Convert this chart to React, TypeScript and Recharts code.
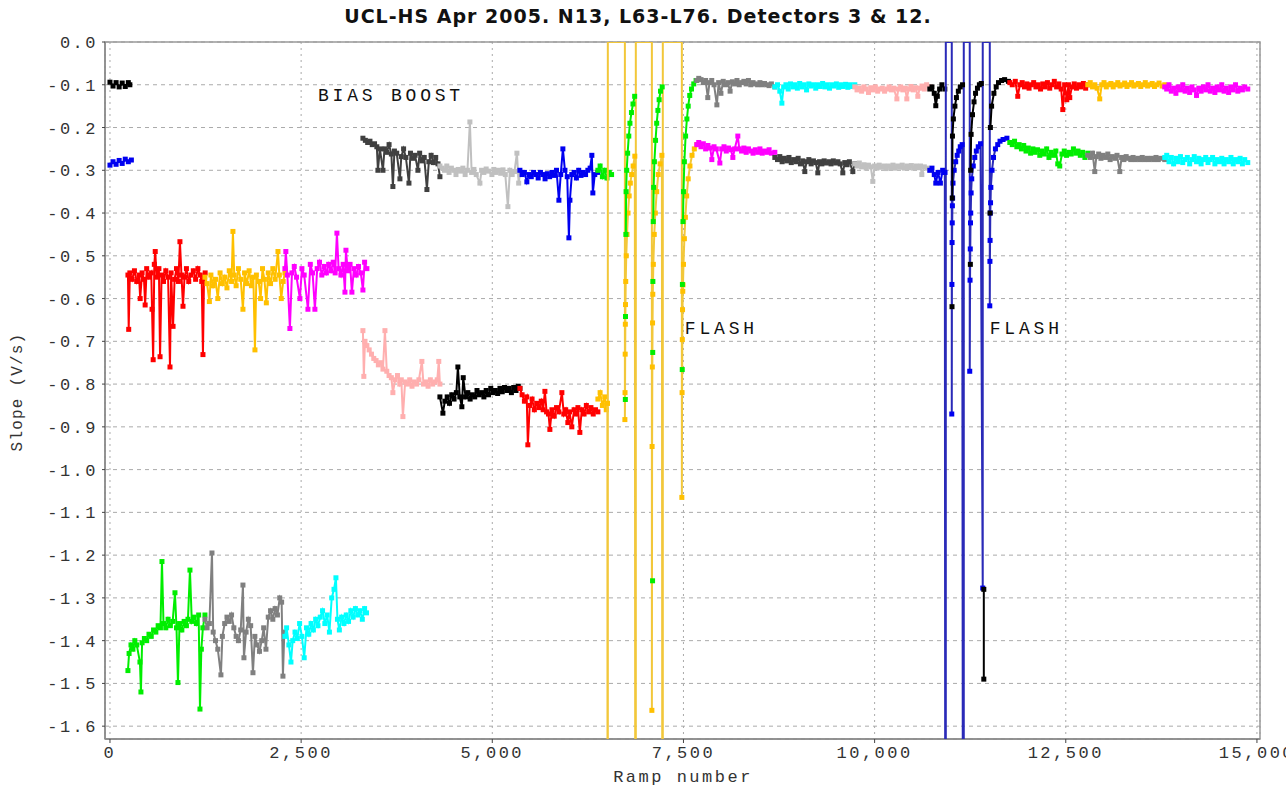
import { ScatterChart, Scatter, XAxis, YAxis, CartesianGrid, ReferenceDot, ReferenceArea } from 'recharts'

type Pt = [number, number]

const xTicks = [0, 2500, 5000, 7500, 10000, 12500, 15000]
const yTicks = [0, -0.1, -0.2, -0.3, -0.4, -0.5, -0.6, -0.7, -0.8, -0.9, -1.0, -1.1, -1.2, -1.3, -1.4, -1.5, -1.6]

// first block, before bias boost
const startHigh: Pt[] = [[0, -0.094], [40, -0.103], [80, -0.095], [120, -0.105], [160, -0.096], [200, -0.104], [240, -0.095], [260, -0.1]]
const startLow: Pt[] = [[0, -0.288], [40, -0.28], [80, -0.286], [120, -0.277], [160, -0.284], [200, -0.274], [240, -0.28], [280, -0.276]]

const midRed: Pt[] = [[235, -0.545], [245, -0.672], [260, -0.54], [290, -0.555], [320, -0.535], [350, -0.56], [380, -0.545], [395, -0.6], [420, -0.54], [445, -0.555], [460, -0.615], [480, -0.53], [510, -0.55], [540, -0.54], [550, -0.625], [565, -0.743], [580, -0.52], [592, -0.49], [610, -0.55], [640, -0.53], [655, -0.736], [675, -0.545], [700, -0.56], [730, -0.535], [760, -0.55], [785, -0.76], [800, -0.54], [825, -0.665], [845, -0.555], [870, -0.53], [895, -0.56], [915, -0.467], [935, -0.545], [955, -0.618], [975, -0.55], [1000, -0.53], [1030, -0.56], [1060, -0.545], [1090, -0.535], [1120, -0.555], [1150, -0.53], [1180, -0.545], [1200, -0.56], [1216, -0.731], [1230, -0.55], [1245, -0.54]]
const midOrange: Pt[] = [[1242, -0.55], [1270, -0.565], [1300, -0.607], [1320, -0.545], [1350, -0.57], [1380, -0.555], [1410, -0.6], [1440, -0.54], [1470, -0.565], [1500, -0.55], [1530, -0.575], [1560, -0.535], [1590, -0.56], [1608, -0.443], [1625, -0.545], [1650, -0.57], [1680, -0.53], [1710, -0.555], [1739, -0.625], [1760, -0.54], [1790, -0.565], [1820, -0.535], [1850, -0.57], [1875, -0.55], [1896, -0.72], [1915, -0.545], [1945, -0.56], [1970, -0.6], [1995, -0.53], [2020, -0.555], [2045, -0.61], [2070, -0.54], [2100, -0.565], [2130, -0.53], [2160, -0.555], [2197, -0.49], [2215, -0.545], [2240, -0.6], [2265, -0.56], [2288, -0.54]]
const midMagenta: Pt[] = [[2288, -0.53], [2300, -0.49], [2320, -0.545], [2353, -0.67], [2380, -0.54], [2410, -0.525], [2440, -0.55], [2484, -0.6], [2510, -0.53], [2540, -0.545], [2589, -0.625], [2620, -0.52], [2650, -0.54], [2680, -0.625], [2710, -0.53], [2740, -0.515], [2770, -0.545], [2800, -0.525], [2830, -0.54], [2860, -0.52], [2890, -0.535], [2920, -0.515], [2945, -0.54], [2968, -0.447], [2990, -0.53], [3020, -0.545], [3050, -0.52], [3073, -0.585], [3086, -0.487], [3110, -0.535], [3140, -0.52], [3164, -0.585], [3190, -0.53], [3220, -0.545], [3250, -0.525], [3280, -0.54], [3308, -0.58], [3330, -0.515], [3360, -0.53]]

const lowGreen: Pt[] = [[235, -1.47], [250, -1.43], [275, -1.41], [300, -1.42], [325, -1.4], [350, -1.41], [392, -1.45], [405, -1.52], [420, -1.405], [450, -1.395], [480, -1.4], [510, -1.385], [540, -1.39], [570, -1.375], [600, -1.38], [630, -1.365], [660, -1.37], [680, -1.215], [700, -1.36], [730, -1.37], [760, -1.35], [790, -1.365], [820, -1.355], [850, -1.288], [870, -1.37], [889, -1.498], [910, -1.36], [940, -1.375], [970, -1.355], [1000, -1.365], [1020, -1.35], [1046, -1.235], [1070, -1.355], [1100, -1.345], [1130, -1.36], [1160, -1.34], [1177, -1.56], [1195, -1.42], [1215, -1.37], [1242, -1.34]]
const lowGray: Pt[] = [[1242, -1.35], [1270, -1.37], [1300, -1.36], [1334, -1.195], [1350, -1.38], [1380, -1.4], [1410, -1.42], [1451, -1.48], [1470, -1.39], [1500, -1.36], [1530, -1.345], [1560, -1.355], [1590, -1.34], [1620, -1.37], [1650, -1.39], [1680, -1.4], [1710, -1.375], [1739, -1.27], [1752, -1.44], [1780, -1.38], [1810, -1.35], [1840, -1.365], [1870, -1.475], [1895, -1.39], [1925, -1.41], [1955, -1.425], [1985, -1.4], [2010, -1.37], [2040, -1.42], [2070, -1.345], [2100, -1.33], [2130, -1.35], [2160, -1.325], [2190, -1.34], [2220, -1.3], [2245, -1.31], [2262, -1.483], [2280, -1.38]]
const lowCyan: Pt[] = [[2288, -1.39], [2310, -1.37], [2340, -1.41], [2367, -1.45], [2390, -1.4], [2420, -1.38], [2450, -1.395], [2480, -1.36], [2510, -1.39], [2540, -1.44], [2570, -1.37], [2600, -1.385], [2630, -1.36], [2660, -1.375], [2690, -1.35], [2720, -1.365], [2750, -1.345], [2780, -1.33], [2810, -1.36], [2840, -1.34], [2870, -1.38], [2900, -1.3], [2930, -1.28], [2955, -1.253], [2975, -1.35], [3000, -1.375], [3030, -1.345], [3060, -1.36], [3090, -1.34], [3120, -1.355], [3150, -1.33], [3180, -1.345], [3210, -1.325], [3240, -1.34], [3270, -1.33], [3300, -1.35], [3330, -1.325], [3355, -1.335]]

// after bias boost
const boostDarkGray: Pt[] = [[3308, -0.225], [3340, -0.23], [3370, -0.235], [3400, -0.232], [3430, -0.24], [3460, -0.238], [3490, -0.245], [3504, -0.3], [3530, -0.25], [3570, -0.3], [3590, -0.25], [3620, -0.258], [3650, -0.24], [3680, -0.262], [3700, -0.338], [3720, -0.255], [3750, -0.26], [3792, -0.32], [3810, -0.268], [3840, -0.25], [3870, -0.27], [3910, -0.33], [3930, -0.26], [3960, -0.272], [3990, -0.265], [4027, -0.3], [4050, -0.26], [4080, -0.278], [4110, -0.27], [4145, -0.345], [4170, -0.28], [4200, -0.265], [4230, -0.282], [4260, -0.27], [4290, -0.285], [4315, -0.315]]
const boostLightGray: Pt[] = [[4315, -0.29], [4345, -0.295], [4375, -0.3], [4405, -0.29], [4435, -0.305], [4465, -0.295], [4495, -0.3], [4525, -0.31], [4555, -0.298], [4585, -0.302], [4615, -0.295], [4645, -0.31], [4675, -0.3], [4707, -0.187], [4730, -0.305], [4760, -0.298], [4790, -0.31], [4838, -0.33], [4860, -0.3], [4890, -0.305], [4920, -0.297], [4950, -0.302], [4995, -0.31], [5020, -0.298], [5050, -0.305], [5080, -0.3], [5110, -0.307], [5140, -0.299], [5170, -0.31], [5204, -0.385], [5230, -0.3], [5260, -0.31], [5290, -0.303], [5322, -0.26], [5345, -0.33], [5361, -0.31]]
const boostBlue: Pt[] = [[5361, -0.3], [5390, -0.31], [5420, -0.305], [5452, -0.327], [5480, -0.31], [5510, -0.315], [5540, -0.305], [5570, -0.31], [5600, -0.318], [5630, -0.305], [5660, -0.31], [5690, -0.32], [5720, -0.308], [5750, -0.315], [5780, -0.305], [5810, -0.312], [5840, -0.3], [5871, -0.37], [5895, -0.31], [5923, -0.25], [5950, -0.3], [5980, -0.315], [6002, -0.458], [6015, -0.37], [6040, -0.31], [6070, -0.305], [6100, -0.318], [6130, -0.3], [6160, -0.312], [6190, -0.305], [6220, -0.31], [6250, -0.3], [6280, -0.295], [6302, -0.265], [6315, -0.353], [6340, -0.31], [6381, -0.305]]
const boostGreen: Pt[] = [[6381, -0.3], [6410, -0.29], [6440, -0.315], [6470, -0.3], [6500, -0.318], [6530, -0.305], [6560, -0.31]]

const boostPink: Pt[] = [[3308, -0.675], [3320, -0.782], [3335, -0.7], [3360, -0.71], [3390, -0.72], [3420, -0.73], [3450, -0.74], [3480, -0.745], [3510, -0.755], [3540, -0.75], [3570, -0.765], [3596, -0.675], [3620, -0.77], [3650, -0.78], [3680, -0.785], [3700, -0.82], [3730, -0.79], [3760, -0.78], [3790, -0.8], [3810, -0.79], [3831, -0.876], [3860, -0.795], [3890, -0.8], [3920, -0.79], [3950, -0.805], [3980, -0.795], [4010, -0.8], [4040, -0.79], [4079, -0.747], [4100, -0.8], [4130, -0.795], [4160, -0.805], [4190, -0.79], [4220, -0.8], [4250, -0.795], [4280, -0.79], [4300, -0.747], [4315, -0.8]]
const boostBlack: Pt[] = [[4315, -0.83], [4354, -0.868], [4380, -0.84], [4410, -0.83], [4440, -0.845], [4470, -0.825], [4500, -0.835], [4530, -0.82], [4550, -0.76], [4575, -0.83], [4602, -0.853], [4620, -0.785], [4650, -0.83], [4680, -0.82], [4710, -0.835], [4740, -0.825], [4770, -0.83], [4800, -0.815], [4830, -0.825], [4860, -0.82], [4890, -0.83], [4920, -0.815], [4950, -0.825], [4980, -0.81], [5010, -0.82], [5040, -0.815], [5070, -0.822], [5100, -0.81], [5130, -0.818], [5160, -0.808], [5190, -0.815], [5220, -0.81], [5250, -0.82], [5280, -0.808], [5310, -0.815], [5340, -0.805], [5361, -0.81]]
const boostRed: Pt[] = [[5361, -0.81], [5390, -0.825], [5420, -0.84], [5450, -0.83], [5465, -0.942], [5490, -0.85], [5520, -0.835], [5550, -0.86], [5580, -0.845], [5610, -0.855], [5640, -0.84], [5665, -0.86], [5688, -0.817], [5710, -0.865], [5735, -0.87], [5753, -0.906], [5780, -0.86], [5810, -0.875], [5840, -0.855], [5870, -0.865], [5910, -0.82], [5935, -0.87], [5960, -0.86], [5988, -0.89], [6010, -0.865], [6040, -0.9], [6070, -0.86], [6100, -0.87], [6120, -0.855], [6145, -0.913], [6170, -0.86], [6200, -0.87], [6230, -0.85], [6260, -0.865], [6290, -0.855], [6320, -0.87], [6350, -0.86], [6381, -0.865]]
const boostOrange: Pt[] = [[6381, -0.835], [6410, -0.82], [6440, -0.85], [6470, -0.83], [6490, -0.86], [6505, -0.845]]

// flash 1: values off scale, then recovery
const flash1Gold: Pt[] = [[6505, -0.845], [6511, -4], [6511, 0], [6734, 0], [6734, -0.883], [6736, -0.82], [6738, -0.73], [6740, -0.66], [6742, -0.614], [6745, -0.56], [6752, -0.5], [6762, -0.45], [6775, -0.4], [6790, -0.36], [6805, -0.33], [6822, -0.31], [6842, -0.29], [6864, -0.267], [6877, -4], [6877, 0], [7087, 0], [7087, -1.563], [7090, -0.946], [7093, -0.76], [7096, -0.657], [7099, -0.59], [7106, -0.52], [7118, -0.45], [7132, -0.4], [7150, -0.35], [7170, -0.31], [7195, -0.285], [7218, -0.265], [7230, -4], [7230, 0], [7479, 0], [7479, -1.065], [7482, -0.82], [7485, -0.696], [7488, -0.626], [7491, -0.583], [7494, -0.568], [7500, -0.52], [7512, -0.46], [7525, -0.41], [7542, -0.36], [7562, -0.32], [7585, -0.29], [7612, -0.265], [7642, -0.25], [7675, -0.24]]
const flash1GreenDots: Pt[] = [[6740, -0.836], [6742, -0.642], [7096, -1.26], [7098, -0.726], [7100, -0.56], [7484, -0.766], [7486, -0.567]]
const flash1Green1: Pt[] = [[6747, -0.45], [6750, -0.35], [6758, -0.3], [6770, -0.26], [6785, -0.22], [6800, -0.19], [6820, -0.165], [6840, -0.145], [6862, -0.127]]
const flash1Green2: Pt[] = [[7105, -0.42], [7110, -0.34], [7120, -0.28], [7135, -0.23], [7150, -0.19], [7166, -0.16], [7182, -0.135], [7200, -0.115], [7222, -0.105]]
const flash1Green3: Pt[] = [[7494, -0.42], [7500, -0.35], [7512, -0.28], [7528, -0.22], [7545, -0.18], [7562, -0.15], [7582, -0.125], [7605, -0.11], [7635, -0.098], [7665, -0.09]]

const postGray: Pt[] = [[7675, -0.09], [7700, -0.085], [7730, -0.088], [7760, -0.095], [7790, -0.09], [7818, -0.13], [7840, -0.095], [7870, -0.09], [7900, -0.1], [7937, -0.147], [7960, -0.095], [7990, -0.12], [8020, -0.092], [8050, -0.1], [8080, -0.095], [8110, -0.115], [8140, -0.093], [8170, -0.098], [8200, -0.09], [8230, -0.1], [8260, -0.095], [8290, -0.092], [8320, -0.098], [8350, -0.09], [8380, -0.1], [8410, -0.095], [8440, -0.098], [8470, -0.1], [8500, -0.095], [8530, -0.1], [8560, -0.097], [8590, -0.1], [8620, -0.102], [8650, -0.098], [8695, -0.105]]
const postCyan: Pt[] = [[8695, -0.105], [8730, -0.1], [8760, -0.115], [8787, -0.143], [8810, -0.105], [8840, -0.1], [8870, -0.11], [8900, -0.098], [8930, -0.105], [8960, -0.1], [8990, -0.108], [9020, -0.097], [9050, -0.105], [9080, -0.1], [9110, -0.112], [9140, -0.098], [9170, -0.103], [9200, -0.1], [9230, -0.108], [9260, -0.1], [9290, -0.104], [9320, -0.097], [9350, -0.105], [9380, -0.1], [9410, -0.108], [9440, -0.1], [9470, -0.103], [9500, -0.098], [9530, -0.106], [9560, -0.1], [9590, -0.104], [9620, -0.099], [9650, -0.106], [9680, -0.1], [9710, -0.104], [9741, -0.1]]
const postPink: Pt[] = [[9741, -0.105], [9770, -0.112], [9800, -0.108], [9830, -0.115], [9860, -0.105], [9890, -0.11], [9920, -0.118], [9950, -0.107], [9980, -0.112], [10010, -0.105], [10040, -0.115], [10070, -0.11], [10100, -0.108], [10130, -0.115], [10160, -0.11], [10190, -0.105], [10220, -0.112], [10250, -0.108], [10291, -0.133], [10310, -0.11], [10340, -0.105], [10370, -0.112], [10400, -0.108], [10421, -0.133], [10445, -0.11], [10475, -0.104], [10505, -0.112], [10535, -0.107], [10565, -0.127], [10590, -0.108], [10620, -0.103], [10650, -0.11], [10680, -0.1], [10722, -0.105]]
const postBlack: Pt[] = [[10722, -0.11], [10750, -0.105], [10780, -0.12], [10800, -0.149], [10820, -0.127], [10850, -0.11], [10880, -0.1], [10918, -0.11]]

const postMagenta: Pt[] = [[7675, -0.24], [7700, -0.235], [7730, -0.245], [7760, -0.238], [7790, -0.25], [7820, -0.242], [7850, -0.248], [7871, -0.275], [7900, -0.245], [7930, -0.25], [7976, -0.283], [8000, -0.25], [8030, -0.245], [8060, -0.255], [8090, -0.248], [8120, -0.252], [8146, -0.27], [8170, -0.25], [8211, -0.22], [8230, -0.25], [8260, -0.255], [8290, -0.248], [8320, -0.258], [8350, -0.25], [8380, -0.255], [8410, -0.26], [8440, -0.252], [8470, -0.258], [8500, -0.25], [8530, -0.26], [8560, -0.255], [8590, -0.258], [8620, -0.252], [8650, -0.26], [8695, -0.258]]
const postDarkGray: Pt[] = [[8695, -0.27], [8730, -0.275], [8760, -0.268], [8790, -0.28], [8820, -0.272], [8850, -0.278], [8880, -0.27], [8910, -0.282], [8940, -0.275], [8970, -0.28], [9000, -0.272], [9030, -0.285], [9060, -0.278], [9087, -0.303], [9110, -0.28], [9140, -0.275], [9170, -0.285], [9200, -0.278], [9230, -0.282], [9257, -0.306], [9280, -0.28], [9310, -0.285], [9340, -0.278], [9370, -0.283], [9400, -0.28], [9430, -0.285], [9460, -0.278], [9490, -0.283], [9520, -0.28], [9550, -0.285], [9584, -0.306], [9610, -0.282], [9640, -0.287], [9670, -0.28], [9715, -0.303], [9741, -0.285]]
const postLightGray: Pt[] = [[9741, -0.285], [9770, -0.29], [9800, -0.283], [9830, -0.292], [9860, -0.287], [9890, -0.295], [9920, -0.288], [9950, -0.292], [9976, -0.326], [10000, -0.29], [10030, -0.295], [10060, -0.288], [10090, -0.293], [10120, -0.29], [10150, -0.296], [10180, -0.29], [10210, -0.294], [10240, -0.288], [10270, -0.295], [10300, -0.29], [10330, -0.293], [10360, -0.288], [10390, -0.295], [10420, -0.29], [10450, -0.294], [10480, -0.289], [10510, -0.295], [10540, -0.29], [10570, -0.294], [10600, -0.29], [10617, -0.31], [10650, -0.292], [10690, -0.295], [10722, -0.3]]
const postBlue: Pt[] = [[10722, -0.3], [10750, -0.295], [10780, -0.31], [10800, -0.33], [10830, -0.305], [10860, -0.33], [10890, -0.3], [10918, -0.305]]

// flash 2
const flash2Blue: Pt[] = [[10918, -0.305], [10931, -4], [10931, 0], [11009, 0], [11009, -0.87], [11011, -0.567], [11013, -0.469], [11015, -0.423], [11017, -0.383], [11020, -0.365], [11025, -0.33], [11040, -0.3], [11060, -0.28], [11080, -0.265], [11100, -0.255], [11120, -0.245], [11145, -0.24], [11166, -4], [11166, 0], [11244, 0], [11244, -0.77], [11248, -0.557], [11251, -0.484], [11254, -0.423], [11257, -0.4], [11262, -0.353], [11270, -0.32], [11290, -0.29], [11310, -0.27], [11330, -0.255], [11355, -0.245], [11385, -0.238], [11414, -1.277], [11414, 0], [11506, 0], [11506, -0.617], [11508, -0.513], [11510, -0.464], [11513, -0.4], [11516, -0.376], [11520, -0.34], [11535, -0.3], [11555, -0.27], [11580, -0.25], [11610, -0.24], [11640, -0.232], [11680, -0.228], [11730, -0.225]]
const flash2BlackDots: Pt[] = [[11012, -0.619], [11252, -0.52], [11510, -0.4]]
const flash2Black1: Pt[] = [[11015, -0.365], [11018, -0.22], [11030, -0.18], [11050, -0.15], [11070, -0.13], [11095, -0.115], [11120, -0.105], [11150, -0.1]]
const flash2Black2: Pt[] = [[11256, -0.3], [11262, -0.216], [11280, -0.17], [11300, -0.14], [11320, -0.12], [11345, -0.108], [11370, -0.1], [11395, -0.097]]
const flash2BlackTail: Pt[] = [[11428, -1.49], [11428, -1.28]]
const flash2Black3: Pt[] = [[11514, -0.2], [11530, -0.15], [11560, -0.12], [11590, -0.105], [11620, -0.095], [11660, -0.09], [11700, -0.088], [11750, -0.092]]

const endRed: Pt[] = [[11768, -0.095], [11800, -0.1], [11840, -0.092], [11872, -0.127], [11900, -0.1], [11930, -0.095], [11960, -0.105], [11990, -0.098], [12020, -0.108], [12050, -0.1], [12080, -0.095], [12110, -0.105], [12140, -0.1], [12170, -0.11], [12200, -0.098], [12230, -0.105], [12260, -0.095], [12290, -0.108], [12320, -0.1], [12350, -0.092], [12380, -0.105], [12410, -0.098], [12440, -0.11], [12461, -0.158], [12485, -0.1], [12513, -0.135], [12535, -0.1], [12552, -0.13], [12580, -0.105], [12610, -0.098], [12640, -0.108], [12670, -0.1], [12700, -0.105], [12730, -0.097], [12760, -0.108], [12788, -0.1]]
const endOrange: Pt[] = [[12788, -0.1], [12820, -0.095], [12850, -0.105], [12880, -0.1], [12910, -0.108], [12944, -0.133], [12970, -0.1], [13000, -0.095], [13030, -0.105], [13060, -0.1], [13090, -0.097], [13120, -0.105], [13150, -0.1], [13180, -0.095], [13210, -0.103], [13240, -0.1], [13270, -0.096], [13300, -0.104], [13330, -0.1], [13360, -0.095], [13390, -0.103], [13420, -0.1], [13450, -0.097], [13480, -0.104], [13510, -0.1], [13540, -0.095], [13570, -0.103], [13600, -0.1], [13630, -0.097], [13660, -0.104], [13690, -0.1], [13720, -0.096], [13760, -0.103], [13794, -0.1]]
const endMagenta: Pt[] = [[13794, -0.105], [13820, -0.11], [13850, -0.1], [13880, -0.115], [13910, -0.108], [13940, -0.12], [13970, -0.105], [14000, -0.112], [14030, -0.1], [14060, -0.115], [14090, -0.108], [14120, -0.118], [14150, -0.105], [14180, -0.112], [14210, -0.125], [14240, -0.108], [14270, -0.115], [14300, -0.105], [14330, -0.112], [14360, -0.1], [14390, -0.115], [14420, -0.108], [14450, -0.118], [14480, -0.105], [14510, -0.112], [14540, -0.1], [14570, -0.115], [14600, -0.108], [14630, -0.118], [14660, -0.105], [14690, -0.112], [14720, -0.1], [14750, -0.115], [14780, -0.108], [14810, -0.112], [14840, -0.105], [14880, -0.11]]

const endGreen: Pt[] = [[11768, -0.235], [11800, -0.24], [11830, -0.232], [11860, -0.245], [11890, -0.24], [11920, -0.25], [11950, -0.242], [11980, -0.255], [12010, -0.248], [12040, -0.26], [12070, -0.25], [12100, -0.258], [12130, -0.252], [12160, -0.265], [12190, -0.255], [12220, -0.262], [12250, -0.25], [12280, -0.27], [12310, -0.258], [12340, -0.265], [12370, -0.255], [12395, -0.285], [12421, -0.29], [12450, -0.262], [12480, -0.255], [12510, -0.265], [12540, -0.258], [12570, -0.262], [12600, -0.25], [12630, -0.26], [12660, -0.255], [12690, -0.265], [12720, -0.258], [12750, -0.27], [12788, -0.26]]
const endGray: Pt[] = [[12788, -0.265], [12820, -0.27], [12850, -0.26], [12879, -0.303], [12900, -0.268], [12930, -0.262], [12960, -0.272], [12990, -0.265], [13020, -0.27], [13050, -0.262], [13080, -0.275], [13110, -0.268], [13140, -0.272], [13170, -0.265], [13206, -0.303], [13230, -0.27], [13260, -0.275], [13290, -0.268], [13320, -0.272], [13350, -0.275], [13380, -0.27], [13410, -0.275], [13440, -0.272], [13470, -0.275], [13500, -0.27], [13530, -0.275], [13560, -0.272], [13590, -0.275], [13620, -0.272], [13650, -0.275], [13680, -0.27], [13710, -0.275], [13740, -0.272], [13794, -0.275]]
const endCyan: Pt[] = [[13794, -0.27], [13820, -0.265], [13850, -0.28], [13880, -0.27], [13910, -0.285], [13940, -0.272], [13970, -0.28], [14000, -0.268], [14030, -0.282], [14060, -0.275], [14090, -0.27], [14120, -0.285], [14150, -0.275], [14180, -0.268], [14210, -0.28], [14240, -0.272], [14270, -0.285], [14300, -0.275], [14330, -0.27], [14360, -0.282], [14390, -0.275], [14420, -0.27], [14450, -0.285], [14480, -0.275], [14510, -0.28], [14540, -0.272], [14570, -0.285], [14600, -0.275], [14630, -0.28], [14660, -0.27], [14690, -0.285], [14720, -0.275], [14750, -0.28], [14780, -0.272], [14810, -0.285], [14840, -0.275], [14880, -0.282]]

const RED = '#ff0000'
const GOLD = '#ffc000'
const MAGENTA = '#ff00ff'
const GREEN = '#00ee00'
const GRAY = '#808080'
const CYAN = '#00ffff'
const DARK = '#404040'
const LIGHT = '#c0c0c0'
const BLUE = '#0000f0'
const PINK = '#ffafaf'
const BLACK = '#000000'

const series: { data: Pt[]; color: string; lineColor?: string; width?: number; noLine?: boolean }[] = [
  { data: startHigh, color: BLACK },
  { data: startLow, color: BLUE },
  { data: midRed, color: RED },
  { data: midOrange, color: GOLD },
  { data: midMagenta, color: MAGENTA },
  { data: lowGreen, color: GREEN },
  { data: lowGray, color: GRAY },
  { data: lowCyan, color: CYAN },
  { data: boostDarkGray, color: DARK },
  { data: boostLightGray, color: LIGHT },
  { data: boostBlue, color: BLUE },
  { data: boostGreen, color: GREEN },
  { data: boostPink, color: PINK },
  { data: boostBlack, color: BLACK },
  { data: boostRed, color: RED },
  { data: boostOrange, color: GOLD },
  { data: flash1Gold, color: GOLD, lineColor: '#f2c73a', width: 2 },
  { data: flash1GreenDots, color: GREEN, noLine: true },
  { data: flash1Green1, color: GREEN },
  { data: flash1Green2, color: GREEN },
  { data: flash1Green3, color: GREEN },
  { data: postGray, color: GRAY },
  { data: postCyan, color: CYAN },
  { data: postPink, color: PINK },
  { data: postBlack, color: BLACK },
  { data: postMagenta, color: MAGENTA },
  { data: postDarkGray, color: DARK },
  { data: postLightGray, color: LIGHT },
  { data: postBlue, color: BLUE },
  { data: flash2Blue, color: BLUE, lineColor: '#2a2ab8', width: 2 },
  { data: flash2BlackDots, color: BLACK, noLine: true },
  { data: flash2Black1, color: BLACK },
  { data: flash2Black2, color: BLACK },
  { data: flash2BlackTail, color: BLACK },
  { data: flash2Black3, color: BLACK },
  { data: endRed, color: RED },
  { data: endOrange, color: GOLD },
  { data: endMagenta, color: MAGENTA },
  { data: endGreen, color: GREEN },
  { data: endGray, color: GRAY },
  { data: endCyan, color: CYAN },
]

const Y_MIN = -1.63
const Y_MAX = 0

const toRows = (pts: Pt[]) => pts.map(([x, y]) => ({ x, y }))

function Square(props: any) {
  const { cx, cy, fill, payload } = props
  const v = payload ? payload.y : -0.5
  if (v >= Y_MAX || v < Y_MIN || cx == null || cy == null) return <g />
  return <rect x={cx - 2.5} y={cy - 2.5} width={5} height={5} fill={fill} />
}

const monoTick = { fill: '#333', fontSize: 17, fontFamily: 'Liberation Mono', letterSpacing: 2.5 }
const noteStyle = { fill: '#111', fontSize: 18, fontFamily: 'Liberation Mono', letterSpacing: 3.8 }

export default function App() {
  return (
    <div style={{ position: 'absolute', left: 0, top: 0, width: 1286, height: 788, background: '#fff' }}>
      <div
        style={{
          position: 'absolute', left: 0, width: 1276, top: 5, textAlign: 'center',
          fontFamily: 'DejaVu Sans', fontWeight: 'bold', fontSize: 19, letterSpacing: 1, color: '#111',
        }}
      >
        UCL-HS Apr 2005. N13, L63-L76. Detectors 3 &amp; 12.
      </div>
      <ScatterChart width={1286} height={788} margin={{ top: 42, right: 26, bottom: 19, left: 45 }}>
        <CartesianGrid vertical={false} stroke="#aaa" strokeDasharray="4 4" />
        <CartesianGrid horizontal={false} stroke="#aaa" strokeDasharray="2 4" />
        <ReferenceArea x1={-65} x2={15040} y1={Y_MIN} y2={Y_MAX} fill="none" stroke="#999" strokeWidth={1.5} />
        <XAxis
          type="number"
          dataKey="x"
          domain={[-65, 15040]}
          ticks={xTicks}
          interval={0}
          allowDataOverflow
          height={30}
          tickSize={4}
          tickMargin={3}
          tick={monoTick}
          tickFormatter={(v: number) => v.toLocaleString('en-US')}
          axisLine={{ stroke: '#888', strokeWidth: 1.5 }}
          tickLine={{ stroke: '#444' }}
        />
        <YAxis
          type="number"
          dataKey="y"
          domain={[Y_MIN, Y_MAX]}
          ticks={yTicks}
          interval={0}
          allowDataOverflow
          width={60}
          tickSize={3}
          tickMargin={4}
          tick={monoTick}
          tickFormatter={(v: number) => v.toFixed(1)}
          axisLine={{ stroke: '#888', strokeWidth: 1.5 }}
          tickLine={{ stroke: '#444' }}
        />
        {series.map((s, i) => (
          <Scatter
            key={i}
            data={toRows(s.data)}
            fill={s.color}
            line={s.noLine ? false : { stroke: s.lineColor ?? s.color, strokeWidth: s.width ?? 2 }}
            shape={Square}
            isAnimationActive={false}
          />
        ))}
        <ReferenceDot x={2720} y={-0.123} r={0} fill="none" stroke="none" label={{ value: 'BIAS BOOST', position: 'right', offset: 0, ...noteStyle }} />
        <ReferenceDot x={7518} y={-0.668} r={0} fill="none" stroke="none" label={{ value: 'FLASH', position: 'right', offset: 0, ...noteStyle }} />
        <ReferenceDot x={11506} y={-0.668} r={0} fill="none" stroke="none" label={{ value: 'FLASH', position: 'right', offset: 0, ...noteStyle }} />
      </ScatterChart>
      <div
        style={{
          position: 'absolute', left: 18, top: 392, transform: 'translate(-50%, -50%) rotate(-90deg)',
          whiteSpace: 'nowrap', fontFamily: 'Liberation Mono', fontSize: 16, letterSpacing: 1.2, color: '#333',
        }}
      >
        Slope (V/s)
      </div>
      <div
        style={{
          position: 'absolute', left: 683, top: 777, transform: 'translate(-50%, -50%)',
          whiteSpace: 'nowrap', fontFamily: 'Liberation Mono', fontSize: 17, letterSpacing: 2.5, color: '#333',
        }}
      >
        Ramp number
      </div>
    </div>
  )
}
